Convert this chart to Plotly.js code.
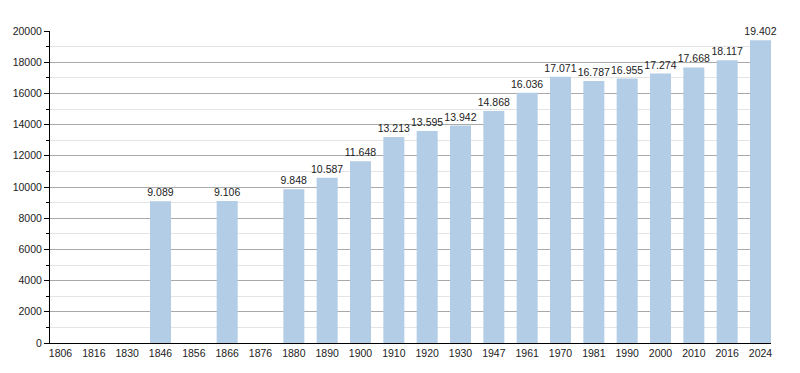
<!DOCTYPE html>
<html><head><meta charset="utf-8">
<script src="https://cdn.plot.ly/plotly-3.0.1.min.js"></script>
<style>body{margin:0;background:#fff}#c{width:800px;height:373px}</style>
</head><body><div id="c"></div>
<script>
const years = ["1806","1816","1830","1846","1856","1866","1876","1880","1890","1900","1910","1920","1930","1947","1961","1970","1981","1990","2000","2010","2016","2024"];
const population = [null,null,null,9089,null,9106,null,9848,10587,11648,13213,13595,13942,14868,16036,17071,16787,16955,17274,17668,18117,19402];

Plotly.newPlot('c', [{
  type: 'bar',
  x: years,
  y: population,
  marker: {color: '#b3cde6'},
  texttemplate: '%{y:,}',
  textposition: 'outside',
  constraintext: 'none',
  cliponaxis: false,
  textfont: {family: 'Liberation Sans, Arial, sans-serif', size: 10.5, color: '#222'},
  hoverinfo: 'none'
}], {
  width: 800, height: 373,
  margin: {l: 50, r: 29, t: 31, b: 30},
  separators: ',.',
  bargap: 0.37,
  showlegend: false,
  paper_bgcolor: '#fff', plot_bgcolor: '#fff',
  font: {family: 'Liberation Sans, Arial, sans-serif', size: 10.5, color: '#222'},
  xaxis: {
    type: 'category', categoryorder: 'array', categoryarray: years,
    range: [-0.315, 21.315],
    showline: true, linecolor: '#000', linewidth: 1,
    ticks: '', showgrid: false, tickfont: {size: 10.5}, fixedrange: true
  },
  yaxis: {
    range: [0, 20000], dtick: 2000, tickformat: 'd',
    showline: true, linecolor: '#000', linewidth: 1,
    ticks: 'outside', ticklen: 5, tickcolor: '#000',
    gridcolor: '#aaaaaa', gridwidth: 1, zeroline: false,
    minor: {dtick: 1000, ticks: 'outside', ticklen: 3, tickcolor: '#000', showgrid: true, gridcolor: '#e4e4e4'},
    tickfont: {size: 10.5}, fixedrange: true
  }
}, {staticPlot: true});
</script></body></html>
